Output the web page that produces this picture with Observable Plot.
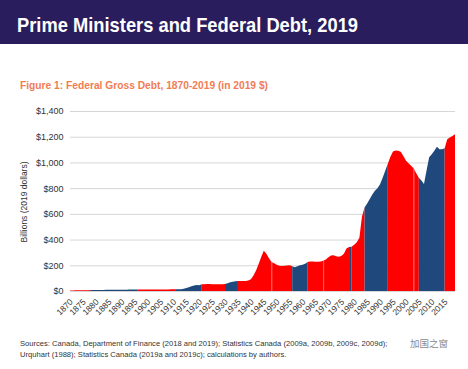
<!DOCTYPE html>
<html><head><meta charset="utf-8">
<script src="https://cdn.jsdelivr.net/npm/d3@7"></script>
<script src="https://cdn.jsdelivr.net/npm/@observablehq/plot@0.6"></script>
<style>
body{margin:0;background:#fff;width:468px;height:369px;position:relative;overflow:hidden;font-family:"Liberation Sans",Arial,sans-serif;}
#hdr{position:absolute;left:0;top:0;width:468px;height:44px;background:#2a1d5e;}
#chart{position:absolute;left:0;top:100px;}
#txt{position:absolute;left:0;top:0;}
</style></head><body>
<div id="hdr"></div>
<div id="chart"></div>
<svg id="txt" width="468" height="369"></svg>
<script>
const years = d3.range(1870, 2020);
const debt = [
  4,4,5,5,5,6,6,6,7,7,
  7,8,8,8,9,9,9,10,10,10,
  10,10,10,11,11,11,11,11,11,11,
  11,11,11,11,11,12,12,12,12,13,
  13,13,13,14,18,24,30,36,42,46,
  44,52,53,54,54,53,53,53,52,52,
  54,60,68,72,75,77,77,77,78,82,
  92,120,160,210,265,314,290,255,225,215,
  205,196,194,196,198,200,192,185,192,200,
  204,212,225,230,229,228,228,230,235,245,
  262,276,278,270,267,272,290,330,342,345,
  360,380,415,580,650,680,715,750,780,800,
  830,880,935,990,1045,1085,1092,1090,1084,1050,
  1015,993,975,955,915,880,860,832,940,1040,
  1064,1090,1122,1102,1102,1110,1180,1193,1205,1219
];
const termStart = [1870,1878,1896,1911,1921,1930,1935,1948,1956,1962,1968,1978,1979,1984,1993,2003,2005,2015];
const termParty = ["Liberal","Conservative","Liberal","Conservative","Liberal","Conservative","Liberal","Liberal","Conservative","Liberal","Liberal","Conservative","Liberal","Conservative","Liberal","Liberal","Conservative","Liberal"];
const partyNames = ["Liberal","Conservative"];
const partyColors = ["#ff0000","#1f497d"];
const yTicks = [0,200,400,600,800,1000,1200,1400];
const xTicks = d3.range(1870, 2016, 5);

const rows = [];
termStart.forEach((s, i) => {
  const e = i + 1 < termStart.length ? termStart[i + 1] : 2019;
  years.forEach((yr, j) => {
    if (yr >= s && yr <= e) rows.push({year: yr, debt: debt[j], seg: i, party: termParty[i]});
  });
});
const seams = termStart.filter((s, i) => i > 0 && termParty[i] === termParty[i - 1])
  .map(s => ({year: s, debt: debt[years.indexOf(s)]}));

const font = '"Liberation Sans",Arial,sans-serif';
const chart = Plot.plot({
  width: 468, height: 220,
  marginLeft: 70, marginRight: 13, marginTop: 11, marginBottom: 29,
  style: {fontFamily: font, fontSize: "9px", color: "#333", background: "transparent", overflow: "visible"},
  x: {domain: [1870, 2019], axis: null},
  y: {domain: [0, 1400], axis: null},
  color: {domain: partyNames, range: partyColors},
  marks: [
    Plot.ruleY(yTicks, {stroke: "#d6d6d6", strokeWidth: 1}),
    Plot.areaY(rows, {x: "year", y1: 0, y2: "debt", z: "seg", fill: "party", curve: "linear"}),
    Plot.ruleX(seams, {x: "year", y1: 0, y2: "debt", stroke: "#ffffff", strokeOpacity: 0.35, strokeWidth: 0.8}),
    Plot.axisY(yTicks, {tickSize: 0, tickPadding: 7, label: null, fontSize: 9, fill: "#333",
      tickFormat: d => "$" + d3.format(",")(d)}),
    Plot.text(xTicks, {x: d => d, y: 0, text: d => String(d), rotate: -45, textAnchor: "end",
      dy: 9, dx: 1, fontSize: 8.5, fill: "#333"})
  ]
});
document.getElementById("chart").appendChild(chart);

const svg = d3.select("#txt");
svg.append("text").attr("x", 17).attr("y", 32).attr("fill", "#fff")
  .attr("font-family", font).attr("font-weight", "bold").attr("font-size", 21)
  .attr("textLength", 341).attr("lengthAdjust", "spacingAndGlyphs")
  .text("Prime Ministers and Federal Debt, 2019");
svg.append("text").attr("x", 20).attr("y", 88.5).attr("fill", "#f07c55")
  .attr("font-family", font).attr("font-weight", "bold").attr("font-size", 11.5)
  .attr("textLength", 248).attr("lengthAdjust", "spacingAndGlyphs")
  .text("Figure 1: Federal Gross Debt, 1870-2019 (in 2019 $)");
svg.append("text").attr("transform", "translate(27,202) rotate(-90)").attr("text-anchor", "middle")
  .attr("fill", "#333").attr("font-family", font).attr("font-size", 9)
  .attr("textLength", 81).attr("lengthAdjust", "spacingAndGlyphs")
  .text("Billions (2019 dollars)");
svg.append("text").attr("x", 20).attr("y", 346).attr("fill", "#333")
  .attr("font-family", font).attr("font-size", 7.6)
  .text("Sources: Canada, Department of Finance (2018 and 2019); Statistics Canada (2009a, 2009b, 2009c, 2009d);");
svg.append("text").attr("x", 20).attr("y", 357).attr("fill", "#333")
  .attr("font-family", font).attr("font-size", 7.6)
  .text("Urquhart (1988); Statistics Canada (2019a and 2019c); calculations by authors.");
svg.append("text").attr("x", 410).attr("y", 347).attr("fill", "#8a8a8a")
  .attr("font-family", '"Noto Sans CJK SC",sans-serif').attr("font-size", 9.5)
  .text("加国之窗");
</script>
</body></html>
